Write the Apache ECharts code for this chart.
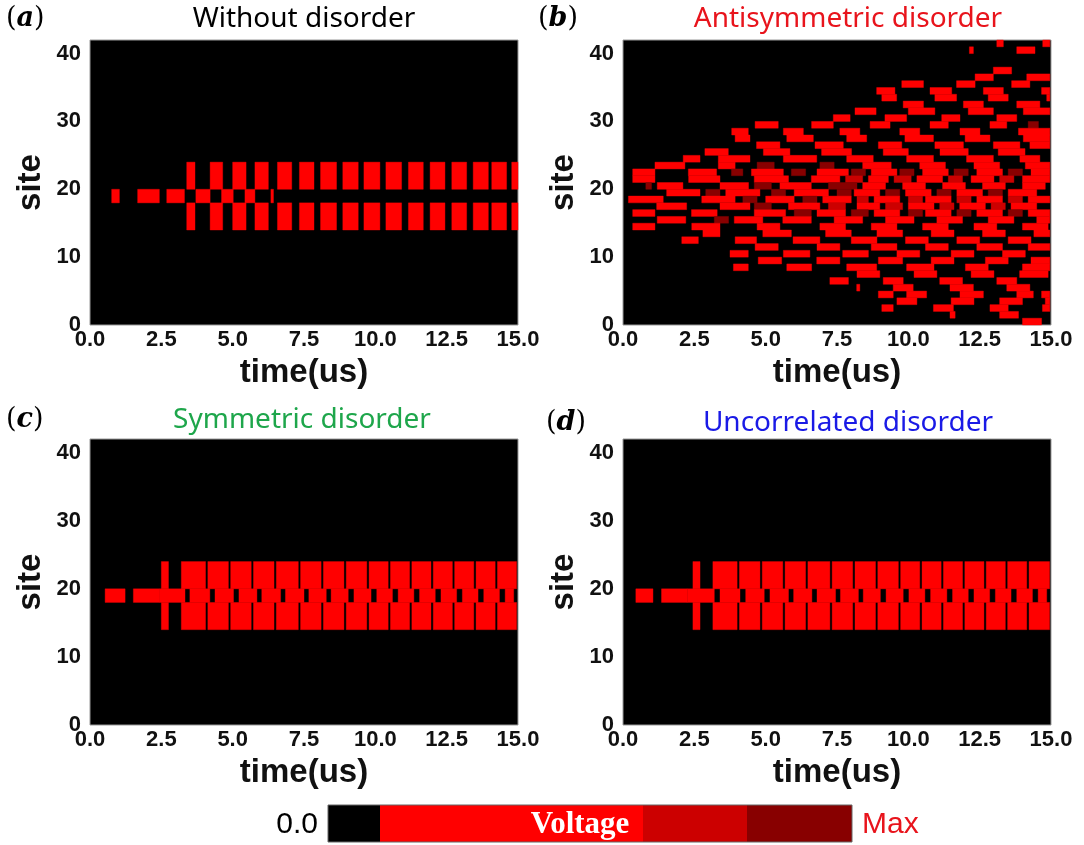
<!DOCTYPE html>
<html><head><meta charset="utf-8">
<script src="https://cdn.jsdelivr.net/npm/echarts@6/dist/echarts.min.js"></script>
<style>html,body{margin:0;padding:0;background:#fff}#c{width:1084px;height:845px}</style>
</head><body><div id="c"></div>
<script>
// ---------- data ----------
// levels: 1 = bright red, 2 = mid red, 3 = dark red
const panelTitles = ['Without disorder', 'Antisymmetric disorder', 'Symmetric disorder', 'Uncorrelated disorder'];
const panelLetters = ['a', 'b', 'c', 'd'];
const timeRange = [0, 15];
const siteRange = [0, 42];

// band extents in site units
const centerBand = [18, 20];
const upperBand = [20, 24];
const lowerBand = [14, 18];

// (a) without disorder: [t0, t1]
const aCenter = [[0.76,1.03],[1.67,2.43],[2.69,3.31],[3.71,4.21],[4.61,5.02],[5.43,5.78],[6.34,6.43]];
const aBands = [[3.39,3.68],[4.21,4.65],[5.0,5.47],[5.78,6.25],[6.57,7.07],[7.34,7.85],[8.08,8.64],[8.86,9.4],
  [9.6,10.16],[10.37,10.92],[11.16,11.68],[11.92,12.44],[12.68,13.2],[13.43,13.96],[14.08,14.6],[14.78,15.0]];

// (c) symmetric disorder
const cCenter = [[0.53,1.23],[1.52,2.45],[2.45,3.33],[3.5,4.2],[4.38,5.03],[5.22,5.85],[6.02,6.68],[6.85,7.5],
  [7.67,8.28],[8.45,9.05],[9.25,9.85],[10.05,10.6],[10.8,11.35],[11.55,12.1],[12.3,12.85],[13.05,13.6],[13.8,14.35],[14.55,14.85]];
const cBands = [[2.5,2.75],[3.2,4.05],[4.13,4.85],[4.93,5.65],[5.73,6.45],[6.53,7.3],[7.38,8.1],[8.18,8.9],[8.98,9.7],
  [9.78,10.45],[10.53,11.2],[11.28,11.95],[12.03,12.7],[12.78,13.45],[13.53,14.2],[14.28,14.95]];

// (d) uncorrelated disorder
const dCenter = [[0.45,1.05],[1.35,2.25],[2.25,3.2],[3.4,4.1],[4.3,4.95],[5.15,5.8],[5.98,6.62],[6.8,7.45],
  [7.62,8.25],[8.42,9.02],[9.22,9.82],[10.02,10.58],[10.78,11.35],[11.55,12.1],[12.3,12.85],[13.05,13.6],[13.8,14.35],[14.55,14.85]];
const dBands = [[2.45,2.7],[3.15,4.0],[4.08,4.8],[4.88,5.6],[5.68,6.4],[6.48,7.25],[7.33,8.05],[8.13,8.85],[8.93,9.65],
  [9.73,10.4],[10.48,11.15],[11.23,11.9],[11.98,12.65],[12.73,13.4],[13.48,14.15],[14.23,14.95]];

// (b) antisymmetric disorder: [site, t0, t1, level]
const bCells = [
 [41,13.1,13.33,1],[41,14.71,14.96,1],
 [40,12.14,12.28,1],[40,13.8,14.44,1],
 [37,12.98,13.62,1],
 [36,12.34,12.98,1],[36,14.15,14.96,1],
 [35,9.77,10.53,1],[35,11.69,12.34,1],[35,13.62,14.26,1],
 [34,8.89,9.53,1],[34,10.76,11.52,1],[34,12.63,13.33,1],[34,14.67,14.96,1],
 [33,9.07,9.59,1],[33,10.93,11.69,1],[33,12.8,13.5,1],[33,14.85,14.96,1],
 [32,9.82,10.53,1],[32,11.93,12.63,1],[32,13.8,14.61,1],
 [31,8.13,8.87,1],[31,10.0,10.93,1],[31,12.1,12.98,1],[31,14.03,14.96,1],
 [30,7.37,7.96,1],[30,9.18,9.94,1],[30,11.17,11.81,1],[30,13.1,13.8,1],
 [29,4.63,5.44,1],[29,6.61,7.37,1],[29,8.66,9.36,1],[29,10.76,11.4,1],[29,12.86,13.45,1],[29,14.2,14.56,3],
 [28,3.81,4.39,1],[28,5.62,6.32,1],[28,7.6,8.3,1],[28,9.7,10.4,1],[28,11.81,12.51,1],[28,13.86,14.96,1],
 [27,3.93,4.45,1],[27,5.74,6.67,1],[27,7.84,8.54,1],[27,9.88,10.88,1],[27,11.99,12.86,1],[27,14.03,14.96,1],
 [26,4.68,5.5,1],[26,6.73,7.72,1],[26,8.95,9.77,1],[26,10.93,11.93,1],[26,12.98,13.91,1],[26,14.26,14.96,1],
 [25,2.87,3.69,1],[25,4.92,5.85,1],[25,6.96,8.01,1],[25,9.12,10.0,1],[25,11.11,12.1,1],[25,13.15,14.09,1],
 [24,2.11,2.7,1],[24,3.34,4.45,1],[24,5.62,6.79,1],[24,7.84,8.77,1],[24,9.94,10.88,1],[24,12.04,12.98,1],[24,13.91,14.61,1],
 [23,1.12,2.17,1],[23,3.34,3.93,1],[23,4.7,5.3,3],[23,6.9,7.4,3],[23,8.4,9.4,1],[23,10.4,11.3,1],[23,12.3,13.2,1],[23,14.1,14.96,1],
 [22,0.34,1.12,1],[22,2.29,3.28,1],[22,3.8,4.2,3],[22,4.5,5.62,1],[22,5.9,6.4,3],[22,6.8,7.9,1],[22,8.0,8.5,3],[22,8.7,9.6,1],
 [22,9.7,10.2,3],[22,10.5,11.4,1],[22,11.6,12.1,3],[22,12.4,13.3,1],[22,13.5,14.0,3],[22,14.3,14.96,1],
 [21,0.34,1.12,1],[21,2.3,3.4,1],[21,4.6,5.8,1],[21,6.6,7.6,1],[21,7.8,8.4,2],[21,8.6,9.3,1],[21,9.5,10.1,2],[21,10.3,11.2,1],
 [21,11.4,11.9,2],[21,12.2,13.0,1],[21,13.2,13.7,2],[21,14.0,14.96,1],
 [20,0.8,1.0,3],[20,1.2,2.1,1],[20,3.4,4.4,1],[20,4.6,5.2,3],[20,5.5,6.6,1],[20,7.2,8.2,3],[20,8.4,9.2,1],[20,9.8,10.6,1],
 [20,11.2,12.0,1],[20,12.6,13.4,1],[20,14.0,14.8,1],
 [19,1.53,2.7,1],[19,2.9,3.4,3],[19,3.6,4.8,1],[19,5.2,5.7,3],[19,6.0,7.2,1],[19,7.5,8.0,3],[19,8.1,9.0,1],[19,9.2,9.7,3],
 [19,9.9,10.8,1],[19,11.0,11.5,3],[19,11.7,12.6,1],[19,12.8,13.3,3],[19,13.5,14.5,1],
 [18,0.19,1.41,1],[18,2.76,3.93,1],[18,4.2,4.7,3],[18,5.0,6.0,1],[18,6.3,6.8,3],[18,7.0,8.0,1],[18,8.2,8.6,2],[18,8.8,9.7,1],
 [18,10.0,10.5,2],[18,10.6,11.5,1],[18,11.7,12.2,2],[18,12.4,13.3,1],[18,13.5,14.0,2],[18,14.2,14.96,1],
 [17,1.18,2.23,1],[17,3.4,4.45,1],[17,4.6,5.2,3],[17,5.8,6.9,1],[17,7.2,7.8,2],[17,8.2,9.0,1],[17,9.2,9.8,2],[17,10.0,10.9,1],
 [17,11.1,11.6,2],[17,11.8,12.7,1],[17,12.9,13.4,2],[17,13.6,14.5,1],
 [16,0.34,1.12,1],[16,2.4,3.3,1],[16,4.6,5.7,1],[16,6.0,6.6,3],[16,6.8,7.8,1],[16,8.0,8.6,3],[16,8.8,9.7,1],[16,10.0,10.5,3],
 [16,10.6,11.5,1],[16,11.7,12.2,3],[16,12.4,13.3,1],[16,13.5,14.0,3],[16,14.2,14.96,1],
 [15,1.2,2.2,1],[15,3.2,3.7,3],[15,3.9,4.9,1],[15,5.6,6.6,1],[15,7.4,8.4,1],[15,9.2,10.2,1],[15,11.0,11.9,1],[15,12.8,13.7,1],[15,14.5,14.96,1],
 [14,0.34,1.12,1],[14,2.41,3.4,1],[14,4.7,5.5,1],[14,6.9,7.8,1],[14,8.7,9.6,1],[14,10.5,11.4,1],[14,12.3,13.1,1],[14,14.0,14.9,1],
 [13,2.8,3.4,1],[13,4.9,5.9,1],[13,7.1,8.0,1],[13,8.9,9.8,1],[13,10.8,11.6,1],[13,12.6,13.4,1],[13,14.4,14.96,1],
 [12,2.06,2.64,1],[12,3.93,4.68,1],[12,5.96,6.9,1],[12,8.0,8.9,1],[12,9.9,10.7,1],[12,11.7,12.5,1],[12,13.5,14.3,1],
 [11,4.63,5.44,1],[11,6.8,7.6,1],[11,8.7,9.6,1],[11,10.6,11.4,1],[11,12.4,13.3,1],[11,14.2,14.96,1],
 [10,3.75,4.39,1],[10,5.62,6.55,1],[10,7.7,8.6,1],[10,9.6,10.4,1],[10,11.5,12.3,1],[10,13.3,14.1,1],
 [9,4.74,5.56,1],[9,6.79,7.6,1],[9,8.95,9.8,1],[9,10.8,11.6,1],[9,12.7,13.5,1],[9,14.3,14.96,1],
 [8,3.87,4.39,1],[8,5.74,6.61,1],[8,7.84,8.89,1],[8,9.94,10.9,1],[8,12.0,12.8,1],[8,14.0,14.96,1],
 [7,8.2,9.0,1],[7,10.2,11.0,1],[7,12.2,13.0,1],[7,13.9,14.9,1],
 [6,7.25,7.9,1],[6,9.12,9.82,1],[6,11.1,11.9,1],[6,13.1,13.8,1],
 [5,8.19,8.3,1],[5,9.47,10.17,1],[5,11.46,12.28,1],[5,13.45,14.26,1],
 [4,8.95,9.47,1],[4,9.94,10.64,1],[4,11.81,12.63,1],[4,13.8,14.38,1],[4,14.67,14.96,1],
 [3,9.6,10.3,1],[3,11.5,12.3,1],[3,13.2,14.0,1],[3,14.8,14.96,1],
 [2,9.07,9.47,1],[2,10.88,11.58,1],[2,12.86,13.5,1],[2,14.7,14.96,1],
 [1,11.46,11.64,1],[1,13.2,13.86,1],
 [0,14.0,14.67,1]
];

// colour bar (legend) labels
const barLow = '0.0', barHigh = 'Max', barName = 'Voltage';

// ---------- building ----------
const levelColors = {1: '#ff0000', 2: '#cc0000', 3: '#880000'};
function bandRects(center, bands) {
  const out = [];
  center.forEach(p => out.push([p[0], p[1], centerBand[0], centerBand[1], 1]));
  bands.forEach(p => {
    out.push([p[0], p[1], upperBand[0], upperBand[1], 1]);
    out.push([p[0], p[1], lowerBand[0], lowerBand[1], 1]);
  });
  return out;
}
const panelData = [
  bandRects(aCenter, aBands),
  bCells.map(c => [c[1], c[2], c[0], c[0] + 1, c[3]]),
  bandRects(cCenter, cBands),
  bandRects(dCenter, dBands)
];

const grids = [
  {left: 90, top: 40, width: 428, height: 285},
  {left: 623, top: 40, width: 428, height: 285},
  {left: 90, top: 439, width: 428, height: 286},
  {left: 623, top: 439, width: 428, height: 286}
].map(g => Object.assign(g, {show: true, backgroundColor: '#000', borderColor: '#999', borderWidth: 1, containLabel: false}));

const tickFont = {fontSize: 22, fontWeight: 'bold', fontFamily: 'Liberation Sans, Arial, sans-serif', color: '#111'};
const nameFont = {fontSize: 33, fontWeight: 'bold', fontFamily: 'Liberation Sans, Arial, sans-serif', color: '#111'};

const xAxes = grids.map((g, i) => ({
  type: 'value', gridIndex: i, min: timeRange[0], max: timeRange[1], interval: 2.5,
  axisLine: {show: false}, axisTick: {show: false}, splitLine: {show: false},
  axisLabel: Object.assign({margin: 4, formatter: v => v.toFixed(1)}, tickFont),
  name: 'time(us)', nameLocation: 'middle', nameGap: 31, nameTextStyle: nameFont
}));
const yAxes = grids.map((g, i) => ({
  type: 'value', gridIndex: i, min: siteRange[0], max: siteRange[1], interval: 10,
  axisLine: {show: false}, axisTick: {show: false}, splitLine: {show: false},
  axisLabel: Object.assign({margin: 9, showMaxLabel: false}, tickFont),
  name: 'site', nameLocation: 'middle', nameGap: 43, nameTextStyle: nameFont
}));

function renderItem(params, api) {
  const p0 = api.coord([api.value(0), api.value(3)]);
  const p1 = api.coord([api.value(1), api.value(2)]);
  const shape = echarts.graphic.clipRectByRect(
    {x: p0[0], y: p0[1], width: p1[0] - p0[0], height: p1[1] - p0[1]},
    {x: params.coordSys.x, y: params.coordSys.y, width: params.coordSys.width, height: params.coordSys.height});
  if (!shape) return;
  const col = levelColors[api.value(4)];
  return {type: 'rect', shape: shape, style: {fill: col, stroke: col, lineWidth: 0.4}};
}

const series = panelData.map((d, i) => ({
  type: 'custom', xAxisIndex: i, yAxisIndex: i, renderItem: renderItem,
  encode: {x: [0, 1], y: [2, 3]}, data: d, silent: true, animation: false
}));

// titles and panel letters
const titleColors = ['#000000', '#e8141c', '#1ea64b', '#1a1ae6'];
const titlePos = [[304, 19], [848, 19], [302, 420], [848, 423]];
const letterPos = [[6, 19], [538, 19], [6, 420], [546, 423]];
const graphics = [];
panelTitles.forEach((t, i) => {
  graphics.push({type: 'text', x: titlePos[i][0], y: titlePos[i][1], silent: true,
    style: {text: t, fill: titleColors[i], font: '28px "Noto Sans", "Open Sans", sans-serif', textAlign: 'center', textVerticalAlign: 'middle'}});
  graphics.push({type: 'text', x: letterPos[i][0], y: letterPos[i][1], silent: true,
    style: {text: '{p|(}{l|' + panelLetters[i] + '}{p|)}', textVerticalAlign: 'middle',
      rich: {p: {fontFamily: 'DejaVu Serif', fontSize: 27, fill: '#000', fontWeight: 'normal'},
             l: {fontFamily: 'DejaVu Serif', fontSize: 27, fontStyle: 'italic', fontWeight: 'bold', fill: '#000'}}}});
});
// colour bar
const barX = 328, barY = 805, barH = 37;
const barSegs = [[0, 52, '#000000'], [52, 315, levelColors[1]], [315, 419, levelColors[2]], [419, 524, levelColors[3]]];
barSegs.forEach(s => graphics.push({type: 'rect', silent: true, shape: {x: barX + s[0], y: barY, width: s[1] - s[0], height: barH}, style: {fill: s[2]}}));
graphics.push({type: 'rect', silent: true, shape: {x: barX, y: barY, width: 524, height: barH}, style: {fill: 'none', stroke: '#666', lineWidth: 1}});
graphics.push({type: 'text', silent: true, x: 580, y: barY + barH / 2 + 1, style: {text: barName, fill: '#fff', font: 'bold 31px "Liberation Serif", "Times New Roman", serif', textAlign: 'center', textVerticalAlign: 'middle'}});
graphics.push({type: 'text', silent: true, x: 318, y: barY + barH / 2 + 1, style: {text: barLow, fill: '#000', font: '30px "Liberation Sans", Arial, sans-serif', textAlign: 'right', textVerticalAlign: 'middle'}});
graphics.push({type: 'text', silent: true, x: 862, y: barY + barH / 2 + 1, style: {text: barHigh, fill: '#e8141c', font: '30px "Liberation Sans", Arial, sans-serif', textAlign: 'left', textVerticalAlign: 'middle'}});

const chart = echarts.init(document.getElementById('c'), null, {renderer: 'canvas'});
chart.setOption({
  animation: false, backgroundColor: '#fff',
  grid: grids, xAxis: xAxes, yAxis: yAxes, series: series, graphic: graphics
});
</script></body></html>
